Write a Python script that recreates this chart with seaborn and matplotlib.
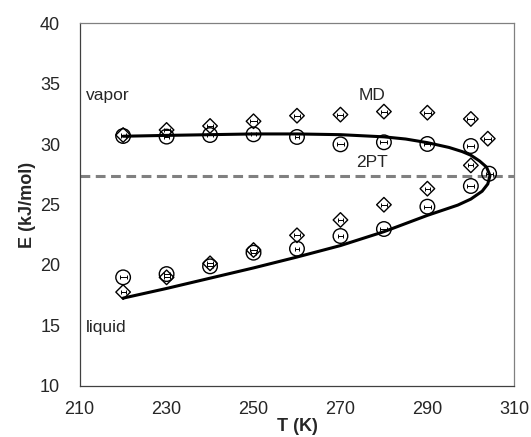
import numpy as np
import pandas as pd
import matplotlib
matplotlib.use("Agg")
import matplotlib.pyplot as plt
import seaborn as sns

# temperatures of the simulation points (K)
temps = [220, 230, 240, 250, 260, 270, 280, 290, 300]

# 2PT (circles): vapor and liquid branches, plus near-critical point
pt2_vapor = [30.67, 30.62, 30.75, 30.81, 30.59, 29.98, 30.15, 30.01, 29.84]
pt2_liquid = [18.97, 19.24, 19.88, 21.01, 21.34, 22.39, 22.97, 24.82, 26.53]
pt2_vapor_err = [0.6, 0.6, 0.6, 0.6, 0.5, 0.8, 0.8, 0.7, 0.8]
pt2_liquid_err = [0.8, 0.7, 0.7, 0.6, 0.5, 0.6, 0.8, 0.8, 0.8]
pt2_crit_T = [304.2]
pt2_crit_E = [27.55]
pt2_crit_err = [0.8]

# MD (diamonds)
md_vapor = [30.75, 31.17, 31.50, 31.89, 32.35, 32.44, 32.69, 32.60, 32.08]
md_liquid = [17.75, 18.97, 20.13, 21.23, 22.45, 23.72, 24.98, 26.31, 28.24]
md_vapor_err = [0.6, 0.7, 0.7, 0.7, 0.7, 0.7, 0.7, 0.8, 0.8]
md_liquid_err = [0.6, 0.7, 0.6, 0.7, 0.6, 0.6, 0.6, 0.6, 0.6]
md_crit_T = [303.9]
md_crit_E = [30.45]
md_crit_err = [0.8]

# coexistence curve (vapor branch -> liquid branch)
curve_T = [220, 230, 240, 250, 260, 270, 280, 285, 290, 295, 298, 300, 302,
           303.6, 304.4, 303.9, 302.6, 300, 297, 290, 280, 270, 260, 250,
           240, 230, 220]
curve_E = [30.65, 30.72, 30.78, 30.84, 30.84, 30.78, 30.6, 30.42, 30.12,
           29.72, 29.38, 29.08, 28.6, 28.1, 27.4, 26.7, 26.1, 25.45, 24.95,
           24.1, 22.75, 21.6, 20.65, 19.75, 18.9, 18.05, 17.25]

# horizontal dashed reference line
ref_E = 27.35

sns.set_style("white")
plt.rcParams["font.family"] = ["Liberation Sans", "DejaVu Sans"]

fig = plt.figure(figsize=(5.31, 4.37), dpi=100)
ax = fig.add_axes([0.150, 0.1174, 0.8186, 0.8293])

df_pt2 = pd.DataFrame({
    "T": temps + temps + pt2_crit_T,
    "E": pt2_vapor + pt2_liquid + pt2_crit_E,
    "err": pt2_vapor_err + pt2_liquid_err + pt2_crit_err,
})
df_md = pd.DataFrame({
    "T": temps + temps + md_crit_T,
    "E": md_vapor + md_liquid + md_crit_E,
    "err": md_vapor_err + md_liquid_err + md_crit_err,
})
df_curve = pd.DataFrame({"T": curve_T, "E": curve_E})

ax.axhline(ref_E, color="#808080", lw=2.2, ls=(0, (3.2, 1.8)), zorder=1)

sns.lineplot(data=df_curve, x="T", y="E", sort=False, estimator=None,
             color="black", lw=2.2, ax=ax, zorder=2)

# error bars (horizontal, Excel style)
for df in [df_pt2, df_md]:
    ax.errorbar(df["T"], df["E"], xerr=df["err"], fmt="none",
                ecolor="black", elinewidth=0.7, capsize=1.6, capthick=0.7,
                zorder=3)

sns.scatterplot(data=df_pt2, x="T", y="E", marker="o", s=110,
                facecolor="none", edgecolor="black", linewidth=1.0,
                ax=ax, zorder=4)
sns.scatterplot(data=df_md, x="T", y="E", marker="D", s=55,
                facecolor="none", edgecolor="black", linewidth=1.0,
                ax=ax, zorder=4)

ax.text(211.5, 34.05, "vapor", fontsize=12.5, ha="left", va="center")
ax.text(211.5, 14.8, "liquid", fontsize=12.5, ha="left", va="center")
ax.text(277.3, 34.05, "MD", fontsize=12.5, ha="center", va="center")
ax.text(277.3, 28.5, "2PT", fontsize=12.5, ha="center", va="center")

ax.set_xlim(210, 310)
ax.set_ylim(10, 40)
ax.set_xticks(np.arange(210, 311, 20))
ax.set_yticks(np.arange(10, 41, 5))
ax.tick_params(axis="both", direction="out", length=4, width=0.8,
               color="#404040", labelsize=13)
ax.tick_params(axis="y", pad=10)
ax.tick_params(axis="x", pad=7)

ax.set_xlabel("T (K)", fontsize=13, fontweight="bold", labelpad=0)
ax.set_ylabel("E (kJ/mol)", fontsize=13, fontweight="bold", labelpad=3)

for side in ["left", "bottom"]:
    ax.spines[side].set_color("#404040")
    ax.spines[side].set_linewidth(0.9)
for side in ["top", "right"]:
    ax.spines[side].set_color("#808080")
    ax.spines[side].set_linewidth(0.9)

fig.savefig("out.png", dpi=100)
